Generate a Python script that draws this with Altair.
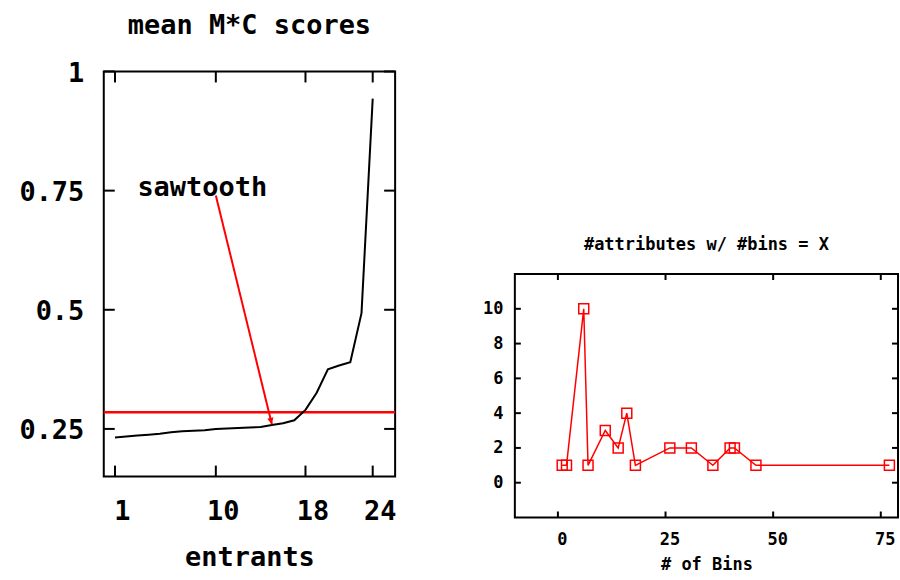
import altair as alt
import pandas as pd

# ---------------- left panel data ----------------
ENTRANTS = [1, 2, 3, 4, 5, 6, 7, 8, 9, 10, 11, 12, 13, 14, 15, 16, 17, 18, 19, 20, 21, 22, 23, 24]
MEAN_SCORES = [0.232, 0.234, 0.236, 0.238, 0.240, 0.243, 0.245, 0.246, 0.247, 0.250, 0.251, 0.252,
               0.253, 0.254, 0.258, 0.262, 0.268, 0.290, 0.326, 0.375, 0.383, 0.390, 0.493, 0.943]
SAWTOOTH_LEVEL = [0.285]
ARROW_START = [10, 0.74]
ARROW_END = [15, 0.26]
LABEL_TEXT = ["sawtooth"]
LABEL_POS = [3, 0.75]
LEFT_X_TICKS = [1, 10, 18, 24]
LEFT_Y_TICKS = [0.25, 0.5, 0.75, 1]
LEFT_X_DOMAIN = [0, 26]
LEFT_Y_DOMAIN = [0.15, 1.0]

# ---------------- right panel data ----------------
NUM_BINS = [1, 2, 6, 7, 11, 14, 16, 18, 26, 31, 36, 40, 41, 46, 77]
NUM_ATTRS = [1, 1, 10, 1, 3, 2, 4, 1, 2, 2, 1, 2, 2, 1, 1]
RIGHT_X_TICKS = [0, 25, 50, 75]
RIGHT_Y_TICKS = [0, 2, 4, 6, 8, 10]
RIGHT_X_DOMAIN = [-10, 79]
RIGHT_Y_DOMAIN = [-2, 12]

FONT = "DejaVu Sans Mono"

# ================= LEFT PANEL =================
LW, LH = 292, 406
LFS = 27
lx_scale = alt.Scale(domain=LEFT_X_DOMAIN, nice=False, zero=False)
ly_scale = alt.Scale(domain=LEFT_Y_DOMAIN, nice=False, zero=False)
lx_axis = alt.Axis(values=LEFT_X_TICKS, labelExpr="format(datum.value, 'd')", title="entrants",
                   labelFontSize=LFS, titleFontSize=LFS, labelPadding=22, titlePadding=20,
                   labelOffset=7, labelFlush=False)
ly_axis = alt.Axis(values=LEFT_Y_TICKS, labelExpr="format(datum.value, '.2~f')", title=None,
                   labelFontSize=LFS, labelPadding=20, labelOffset=2, labelFlush=False)

line_df = pd.DataFrame({"entrants": ENTRANTS, "score": MEAN_SCORES})
level_df = pd.DataFrame({"level": SAWTOOTH_LEVEL})
arrow_df = pd.DataFrame({"x0": [ARROW_START[0]], "y0": [ARROW_START[1]],
                         "x1": [ARROW_END[0]], "y1": [ARROW_END[1]]})
label_df = pd.DataFrame({"x": [LABEL_POS[0]], "y": [LABEL_POS[1]], "text": LABEL_TEXT})
lxt_df = pd.DataFrame({"t": LEFT_X_TICKS})
lyt_df = pd.DataFrame({"t": LEFT_Y_TICKS})


def LX(field):
    return alt.X(field, type="quantitative", scale=lx_scale, axis=lx_axis)


def LY(field):
    return alt.Y(field, type="quantitative", scale=ly_scale, axis=ly_axis)


left_line = alt.Chart(line_df).mark_line(color="black", strokeWidth=2).encode(
    x=LX("entrants"), y=LY("score"))
left_level = alt.Chart(level_df).mark_rule(color="#ff0000", strokeWidth=2.5).encode(y=LY("level"))
left_arrow = alt.Chart(arrow_df).mark_rule(color="#ff0000", strokeWidth=2).encode(
    x=LX("x0"), y=LY("y0"), x2="x1", y2="y1")
left_head = alt.Chart(arrow_df).mark_point(
    shape="M0,0 L-0.5,-1 L0.5,-1 Z", filled=True, color="#ff0000", opacity=1,
    size=160, angle=346).encode(x=LX("x1"), y=LY("y1"))
left_label = alt.Chart(label_df).mark_text(
    align="left", baseline="alphabetic", dy=5, font=FONT, fontSize=LFS, fontWeight="bold",
    color="black").encode(x=LX("x"), y=LY("y"), text="text:N")
ltick_b = alt.Chart(lxt_df).mark_rule(color="black", strokeWidth=2).encode(
    x=LX("t"), y=alt.value(LH), y2=alt.value(LH - 11))
ltick_t = alt.Chart(lxt_df).mark_rule(color="black", strokeWidth=2).encode(
    x=LX("t"), y=alt.value(0), y2=alt.value(11))
ltick_l = alt.Chart(lyt_df).mark_rule(color="black", strokeWidth=2).encode(
    y=LY("t"), x=alt.value(0), x2=alt.value(11))
ltick_r = alt.Chart(lyt_df).mark_rule(color="black", strokeWidth=2).encode(
    y=LY("t"), x=alt.value(LW), x2=alt.value(LW - 11))

left = alt.layer(left_level, left_line, left_arrow, left_head, left_label,
                 ltick_b, ltick_t, ltick_l, ltick_r).properties(
    width=LW, height=LH,
    title=alt.TitleParams("mean M*C scores", font=FONT, fontSize=LFS, fontWeight="bold",
                          color="black", offset=20, anchor="middle"))

# ================= RIGHT PANEL =================
RW, RH = 384, 244
RFS = 17
rx_scale = alt.Scale(domain=RIGHT_X_DOMAIN, nice=False, zero=False)
ry_scale = alt.Scale(domain=RIGHT_Y_DOMAIN, nice=False, zero=False)
rx_axis = alt.Axis(values=RIGHT_X_TICKS, labelExpr="format(datum.value, 'd')", title="# of Bins",
                   labelFontSize=RFS, titleFontSize=RFS, labelPadding=14, titlePadding=9,
                   labelOffset=4, labelFlush=False)
ry_axis = alt.Axis(values=RIGHT_Y_TICKS, labelExpr="format(datum.value, 'd')", title=None,
                   labelFontSize=RFS, labelPadding=12, labelFlush=False)

bins_df = pd.DataFrame({"bins": NUM_BINS, "attrs": NUM_ATTRS})
rxt_df = pd.DataFrame({"t": RIGHT_X_TICKS})
ryt_df = pd.DataFrame({"t": RIGHT_Y_TICKS})


def RX(field):
    return alt.X(field, type="quantitative", scale=rx_scale, axis=rx_axis)


def RY(field):
    return alt.Y(field, type="quantitative", scale=ry_scale, axis=ry_axis)


r_line = alt.Chart(bins_df).mark_line(color="#ff0000", strokeWidth=1.5).encode(
    x=RX("bins"), y=RY("attrs"))
r_pts = alt.Chart(bins_df).mark_point(shape="square", size=100, filled=False,
                                      color="#ff0000", strokeWidth=1.5, opacity=1).encode(
    x=RX("bins"), y=RY("attrs"))
rtick_b = alt.Chart(rxt_df).mark_rule(color="black", strokeWidth=2).encode(
    x=RX("t"), y=alt.value(RH), y2=alt.value(RH - 6))
rtick_t = alt.Chart(rxt_df).mark_rule(color="black", strokeWidth=2).encode(
    x=RX("t"), y=alt.value(0), y2=alt.value(6))
rtick_l = alt.Chart(ryt_df).mark_rule(color="black", strokeWidth=2).encode(
    y=RY("t"), x=alt.value(0), x2=alt.value(6))
rtick_r = alt.Chart(ryt_df).mark_rule(color="black", strokeWidth=2).encode(
    y=RY("t"), x=alt.value(RW), x2=alt.value(RW - 6))

right = alt.layer(r_line, r_pts, rtick_b, rtick_t, rtick_l, rtick_r).properties(
    width=RW, height=RH,
    title=alt.TitleParams("#attributes w/ #bins = X", font=FONT, fontSize=RFS,
                          fontWeight="bold", color="black", offset=19, anchor="middle"))

spacer = alt.Chart(pd.DataFrame({"v": [0]})).mark_point(opacity=0).encode(
    x=alt.value(0), y=alt.value(0)).properties(
    width=1, height=164, view=alt.ViewBackground(stroke=None))

chart = alt.hconcat(
    left,
    alt.vconcat(spacer, right, spacing=0),
    spacing=83,
).properties(
    padding={"left": 17, "top": 10, "right": 0, "bottom": 0},
    background="white",
).configure_view(
    stroke="black", strokeWidth=2
).configure_axis(
    grid=False, domain=False, ticks=False, tickSize=0,
    labelFont=FONT, labelFontWeight="bold", labelColor="black",
    titleFont=FONT, titleFontWeight="bold", titleColor="black",
)

chart.save("out.html", embed_options={"renderer": "svg", "actions": False})
